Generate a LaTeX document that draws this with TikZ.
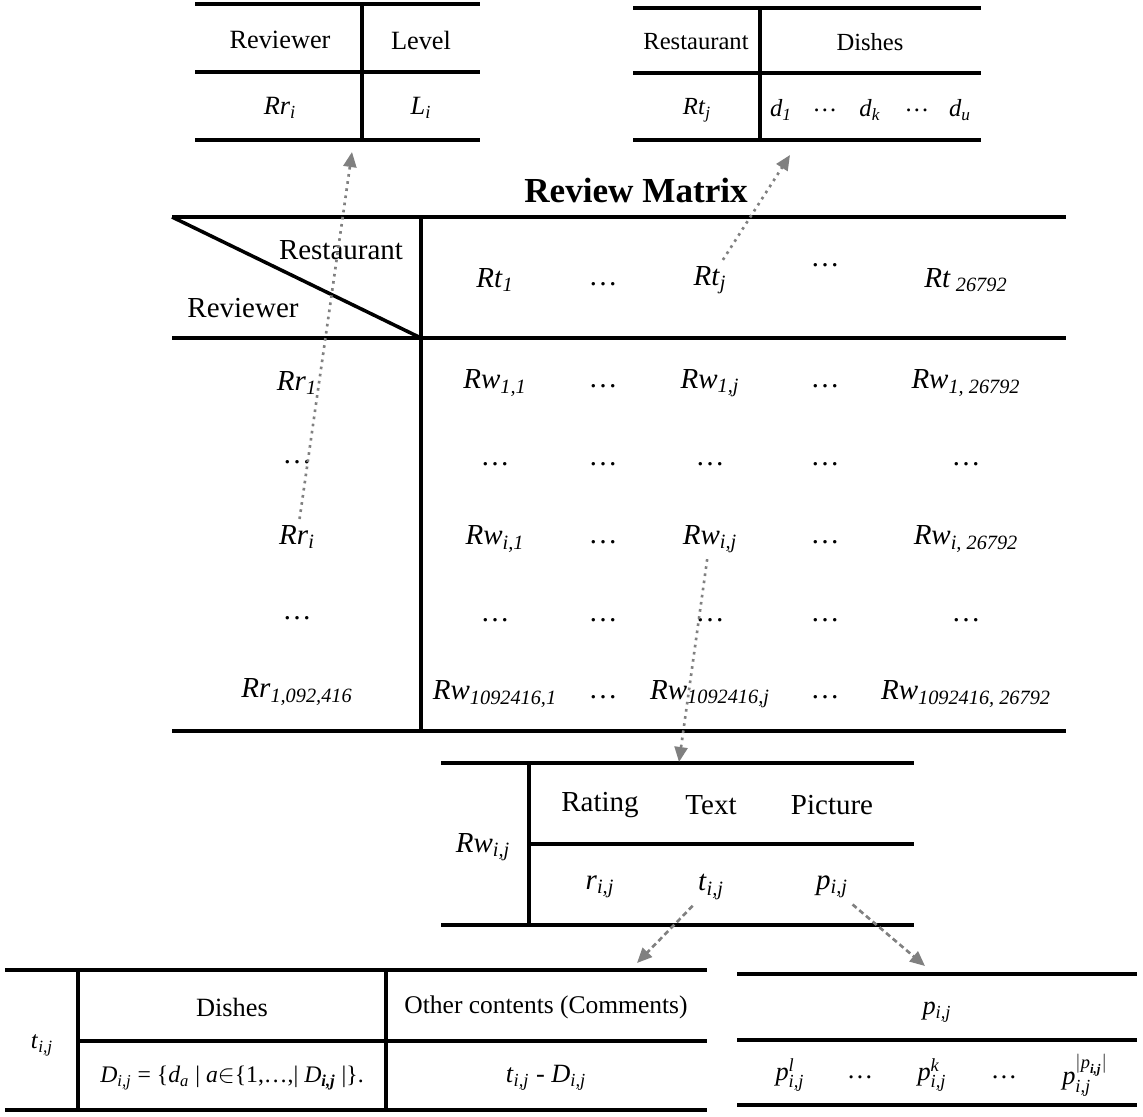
\documentclass[tikz,border=0pt]{standalone}
\usepackage{amsmath}
\usepackage{fontspec}
\setmainfont{Liberation Serif}
\usepackage{tikz}
\usetikzlibrary{positioning}
\usetikzlibrary{arrows.meta}

\newcommand{\sym}[2]{\textit{#1}\textsubscript{\textit{#2}}}

\tikzset{
  rule/.style={line width=2pt},
  big/.style={font=\fontsize{16.5}{20}\selectfont},
  mid/.style={font=\fontsize{15}{18}\selectfont},
  small/.style={font=\fontsize{14}{17}\selectfont},
  dotlink/.style={draw=gray, line width=1.5pt, dash pattern=on 1.5pt off 2.6pt, -{Triangle[length=3mm,width=2.6mm]}},
  dashlink/.style={draw=gray, line width=1.5pt, dash pattern=on 3pt off 2pt, -{Triangle[length=3mm,width=2.6mm]}}
}

\begin{document}
\begin{tikzpicture}[x=0.2mm,y=-0.2mm]
    \useasboundingbox (0,0) rectangle (1143,1117);

    % reviewer table
    \draw [rule] (195,4) -- (480,4);
    \draw [rule] (195,72) -- (480,72);
    \draw [rule] (195,140) -- (480,140);
    \draw [rule] (362,4) -- (362,140);
    \node (RevHead)[mid] at (280,40) {Reviewer};
    \node (LvlHead)[mid] at (421,40) {Level};
    \node (RevRow)[mid] at (280,108) {\sym{Rr}{i}};
    \node (LvlRow)[mid] at (421,108) {\sym{L}{i}};
    \coordinate (RevIn) at (352,152);

    % restaurant table
    \draw [rule] (633,8) -- (981,8);
    \draw [rule] (633,73) -- (981,73);
    \draw [rule] (633,140) -- (981,140);
    \draw [rule] (760,8) -- (760,140);
    \node (ResHead)[small] at (696,42) {Restaurant};
    \node (DishHead)[small] at (870,42) {Dishes};
    \node (ResRow)[small] at (697,110) {\sym{Rt}{j}};
    \node (DishA)[small] at (781,110) {\sym{d}{1}};
    \node (DishDotsA)[small] at (825,110) {…};
    \node (DishK)[small] at (870,110) {\sym{d}{k}};
    \node (DishDotsB)[small] at (917,110) {…};
    \node (DishU)[small] at (960,110) {\sym{d}{u}};
    \coordinate (ResIn) at (790,155);

    % review matrix
    \node (Title) at (636,190) {\fontsize{20}{24}\selectfont\textbf{Review Matrix}};
    \draw [rule] (172,217) -- (1066,217);
    \draw [rule] (172,338) -- (1066,338);
    \draw [rule] (172,731) -- (1066,731);
    \draw [rule] (421,217) -- (421,731);
    \draw [rule] (172,217) -- (421,338);
    \node (CornerRes)[big] at (341,250) {Restaurant};
    \node (CornerRev)[big] at (243,308) {Reviewer};

    \node (Rt1)[big] at (495,280) {\sym{Rt}{1}};
    \node (RtDotsA)[big] at (603,284) {…};
    \node (Rtj)[big] at (710,280) {\sym{Rt}{j}};
    \node (RtDotsB)[big] at (825,265) {…};
    \node (RtN)[big] at (966,280) {\textit{Rt}\textsubscript{ \textit{26792}}};

    \node (Rr1)[big] at (297,383) {\sym{Rr}{1}};
    \node (RrDotsA)[big] at (297,462) {…};
    \node (Rri)[big] at (297,537) {\sym{Rr}{i}};
    \node (RrDotsB)[big] at (297,618) {…};
    \node (RrN)[big] at (297,692) {\sym{Rr}{1,092,416}};

    \node (Rw11)[big] at (495,383) {\sym{Rw}{1,1}};
    \node (RwDots12)[big] at (603,386) {…};
    \node (Rw1j)[big] at (710,383) {\sym{Rw}{1,j}};
    \node (RwDots14)[big] at (825,386) {…};
    \node (Rw1N)[big] at (966,383) {\sym{Rw}{1, 26792}};

    \node (RwDots21)[big] at (495,464) {…};
    \node (RwDots22)[big] at (603,464) {…};
    \node (RwDots23)[big] at (710,464) {…};
    \node (RwDots24)[big] at (825,464) {…};
    \node (RwDots25)[big] at (966,464) {…};

    \node (Rwi1)[big] at (495,539) {\sym{Rw}{i,1}};
    \node (RwDots32)[big] at (603,542) {…};
    \node (Rwij)[big] at (710,539) {\sym{Rw}{i,j}};
    \node (RwDots34)[big] at (825,542) {…};
    \node (RwiN)[big] at (966,539) {\sym{Rw}{i, 26792}};

    \node (RwDots41)[big] at (495,620) {…};
    \node (RwDots42)[big] at (603,620) {…};
    \node (RwDots43)[big] at (710,620) {…};
    \node (RwDots44)[big] at (825,620) {…};
    \node (RwDots45)[big] at (966,620) {…};

    \node (RwN1)[big] at (495,694) {\sym{Rw}{1092416,1}};
    \node (RwDots52)[big] at (603,697) {…};
    \node (RwNj)[big] at (710,694) {\sym{Rw}{1092416,j}};
    \node (RwDots54)[big] at (825,697) {…};
    \node (RwNN)[big] at (966,694) {\sym{Rw}{1092416, 26792}};

    % review table
    \draw [rule] (441,763) -- (914,763);
    \draw [rule] (529,844) -- (914,844);
    \draw [rule] (441,925) -- (914,925);
    \draw [rule] (529,763) -- (529,925);
    \node (RwHead)[big] at (483,847) {\sym{Rw}{i,j}};
    \node (RatHead)[big] at (600,805) {Rating};
    \node (TxtHead)[big] at (711,805) {Text};
    \node (PicHead)[big] at (832,805) {Picture};
    \node (RatRow)[big] at (600,887) {\sym{r}{i,j}};
    \node (TxtRow)[big] at (711,887) {\sym{t}{i,j}};
    \node (PicRow)[big] at (832,887) {\sym{p}{i,j}};
    \coordinate (RwIn) at (679,762);

    % text table
    \draw [rule] (5,970) -- (707,970);
    \draw [rule] (78,1041) -- (707,1041);
    \draw [rule] (5,1110) -- (707,1110);
    \draw [rule] (78,970) -- (78,1110);
    \draw [rule] (386,970) -- (386,1110);
    \node (TxtName)[small] at (42,1045) {\sym{t}{i,j}};
    \node (DishCol)[mid] at (232,1007) {Dishes};
    \node (OtherCol)[mid] at (546,1007) {\fontsize{14.5}{17}\selectfont Other contents (Comments)};
    \node (DishSet)[small] at (232,1078) {\fontsize{13.5}{16}\selectfont\sym{D}{i,j} = \{\sym{d}{a} | \textit{a}$\in$\{1,…,| \textit{D}\textsubscript{\textbf{\textit{i,j}}} |\}.};
    \node (OtherSet)[mid] at (546,1078) {\sym{t}{i,j} - \sym{D}{i,j}};
    \coordinate (TxtIn) at (637,963);

    % picture table
    \draw [rule] (737,974) -- (1137,974);
    \draw [rule] (737,1040) -- (1137,1040);
    \draw [rule] (737,1105) -- (1137,1105);
    \node (PicName)[mid] at (937,1012) {\sym{p}{i,j}};
    \node (PicA)[mid] at (790,1075) {$\textit{p}^{\textit{l}}_{\textit{i,j}}$};
    \node (PicDotsA)[mid] at (860,1077) {…};
    \node (PicK)[mid] at (932,1075) {$\textit{p}^{\textit{k}}_{\textit{i,j}}$};
    \node (PicDotsB)[mid] at (1004,1077) {…};
    \node (PicN)[mid] at (1085,1075) {$\textit{p}^{|\textit{p}_{\textbf{\textit{i,j}}}|}_{\textit{i,j}}$};
    \coordinate (PicIn) at (925,966);

    % links
    \draw [dotlink] (Rri) -- (RevIn);
    \draw [dotlink] (Rtj) -- (ResIn);
    \draw [dotlink] (Rwij) -- (RwIn);
    \draw [dashlink] (TxtRow) -- (TxtIn);
    \draw [dashlink] (PicRow) -- (PicIn);
\end{tikzpicture}
\end{document}
